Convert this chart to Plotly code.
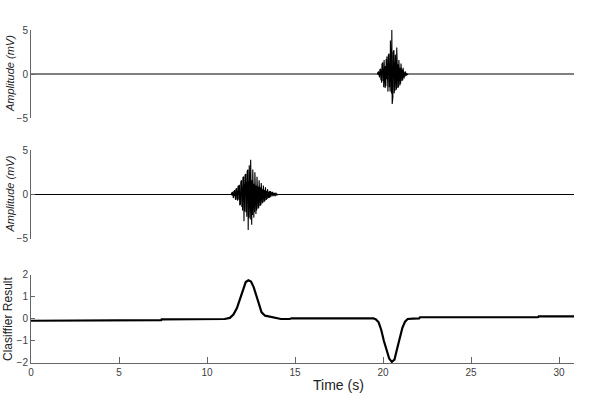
import numpy as np
import plotly.graph_objects as go

# ---------------- data ----------------
# Burst of channel 1 (top), sampled every 0.02 s starting at 19.70 s
top_burst_start = 19.70
top_burst_dt = 0.02
top_burst = [
    0.2, -0.1, 0.3, -0.3, 0.1, -0.4, 0.5, -0.2, 0.6, -0.7,
    0.4, -1.0, 1.1, -0.5, 1.3, -0.8, 0.6, -1.5, 1.6, -0.7,
    1.2, -1.6, 0.9, -1.4, 1.7, -0.6, 2.0, -1.6, 1.0, -2.0,
    2.1, -0.9, 2.3, -1.5, 1.2, -2.0, 3.8, -1.1, 2.6, -2.2,
    5.0, -3.4, 1.4, -2.6, 2.5, -1.0, 2.7, -2.2, 1.3, -1.9,
    2.2, -1.2, 2.1, -1.8, 3.0, -0.9, 2.0, -1.6, 1.1, -1.5,
    1.6, -0.8, 1.5, -1.3, 0.7, -1.1, 1.2, -0.6, 1.0, -0.8,
    0.5, -0.7, 0.7, -0.3, 0.5, -0.5, 0.2, -0.3, 0.3, -0.1,
    0.2, -0.2, 0.1, -0.1, 0.1, -0.1,
]

# Burst of channel 2 (middle), sampled every 0.02 s starting at 11.40 s
mid_burst_start = 11.40
mid_burst_dt = 0.02
mid_burst = [
    0.2, -0.1, 0.3, -0.3, 0.1, -0.4, 0.4, -0.2, 0.5, -0.4,
    0.3, -0.6, 0.6, -0.3, 0.7, -0.6, 0.4, -0.7, 0.9, -0.5,
    1.0, -0.6, 1.1, -1.2, 0.7, -1.1, 1.4, -0.8, 1.6, -1.4,
    0.9, -1.8, 1.9, -1.0, 2.0, -3.0, 1.2, -1.9, 2.2, -1.1,
    2.3, -2.0, 1.4, -2.5, 2.6, -1.3, 2.8, -4.0, 1.5, -2.6,
    3.3, -1.4, 2.7, -2.8, 3.9, -1.5, 2.9, -3.4, 1.6, -2.3,
    2.8, -1.2, 2.4, -2.6, 1.2, -2.0, 2.5, -1.0, 2.1, -2.2,
    1.0, -1.8, 2.0, -0.9, 1.8, -1.6, 0.9, -1.5, 1.6, -0.8,
    1.5, -1.3, 0.8, -1.2, 1.3, -0.7, 1.2, -1.0, 0.6, -0.9,
    1.0, -0.5, 0.9, -0.8, 0.5, -0.7, 0.8, -0.4, 0.7, -0.6,
    0.4, -0.5, 0.6, -0.3, 0.5, -0.4, 0.3, -0.4, 0.4, -0.2,
    0.4, -0.3, 0.2, -0.3, 0.3, -0.1, 0.3, -0.2, 0.2, -0.2,
    0.2, -0.1, 0.2, -0.2, 0.1, -0.1, 0.2, -0.1, 0.1, -0.1,
    0.0,
]

# Baseline level of both channels (flat, read as 0 mV)
base_t = [0.0, 30.85]
top_base = 0.0
mid_base = 0.0

# Classifier output
clf_t = [0.0, 3.7, 3.72, 7.4, 7.42, 10.5, 11.0, 11.3, 11.5, 11.7, 11.9, 12.05,
         12.2, 12.35, 12.5, 12.65, 12.8, 12.95, 13.1, 13.3, 13.6, 13.9, 14.2,
         14.7, 14.8, 19.45, 19.6, 19.75, 19.9, 20.05, 20.2, 20.35, 20.5, 20.65,
         20.8, 20.95, 21.1, 21.25, 21.4, 21.7, 22.05, 22.1, 28.8, 28.85, 30.85]
clf_v = [-0.08, -0.08, -0.05, -0.05, -0.02, -0.01, 0.0, 0.05, 0.2, 0.5, 1.0, 1.4,
         1.68, 1.76, 1.7, 1.45, 1.05, 0.6, 0.3, 0.15, 0.1, 0.05, 0.0,
         0.0, 0.03, 0.03, -0.02, -0.15, -0.5, -1.0, -1.45, -1.8, -1.95, -1.85,
         -1.35, -0.8, -0.4, -0.12, 0.0, 0.02, 0.03, 0.08, 0.08, 0.12, 0.12]

x_ticks = [0, 5, 10, 15, 20, 25, 30]
amp_ticks = [-5, 0, 5]
clf_ticks = [-2, -1, 0, 1, 2]
x_max = 30.85


def merge(base, b_start, b_dt, burst):
    bt = b_start + b_dt * np.arange(len(burst))
    t = np.concatenate([[base_t[0], bt[0] - b_dt], bt, [bt[-1] + b_dt, base_t[-1]]])
    v = np.concatenate([[base, base], burst, [base, base]])
    return t, v


top_t, top_v = merge(top_base, top_burst_start, top_burst_dt, top_burst)
mid_t, mid_v = merge(mid_base, mid_burst_start, mid_burst_dt, mid_burst)

# ---------------- figure ----------------
fig = go.Figure()
fig.add_trace(go.Scatter(x=top_t, y=top_v, mode="lines",
                         line=dict(color="black", width=1.1), xaxis="x", yaxis="y"))
fig.add_trace(go.Scatter(x=mid_t, y=mid_v, mode="lines",
                         line=dict(color="black", width=1.1), xaxis="x2", yaxis="y2"))
fig.add_trace(go.Scatter(x=clf_t, y=clf_v, mode="lines",
                         line=dict(color="black", width=2.2), xaxis="x3", yaxis="y3"))

axis_col = "#666666"
tick_font = dict(family="Liberation Sans, Arial, sans-serif", size=10, color="#404040")

hidden_x = dict(range=[0, x_max], showline=False, showticklabels=False,
                ticks="", showgrid=False, zeroline=False, automargin=False)
yax = dict(showline=True, linecolor=axis_col, linewidth=1, ticks="inside",
           ticklen=4, tickcolor=axis_col, showgrid=False, zeroline=False,
           tickfont=tick_font, mirror=False, automargin=False)

fig.update_layout(
    width=600, height=412,
    margin=dict(l=31, r=26, t=30, b=49),
    paper_bgcolor="white", plot_bgcolor="white",
    showlegend=False,
    xaxis=dict(domain=[0, 1], anchor="y", **hidden_x),
    xaxis2=dict(domain=[0, 1], anchor="y2", **hidden_x),
    xaxis3=dict(domain=[0, 1], anchor="y3", range=[0, x_max],
                tickvals=x_ticks, showline=True, linecolor=axis_col, linewidth=1,
                ticks="inside", ticklen=6, tickcolor=axis_col, showgrid=False,
                zeroline=False, tickfont=tick_font, automargin=False),
    yaxis=dict(domain=[0.7357, 1.0], anchor="x", range=[-5, 5],
               tickvals=amp_ticks, **yax),
    yaxis2=dict(domain=[0.3724, 0.6396], anchor="x2", range=[-5, 5],
                tickvals=amp_ticks, **yax),
    yaxis3=dict(domain=[0, 0.2643], anchor="x3", range=[-2, 2],
                tickvals=clf_ticks, **yax),
)

title_font = dict(family="Liberation Sans, Arial, sans-serif", size=11, color="#222222")
fig.add_annotation(text="<i>Amplitude (mV)</i>", xref="paper", yref="paper",
                   x=(10 - 31) / 543, y=(0.7357 + 1.0) / 2, textangle=-90,
                   showarrow=False, font=title_font, xanchor="center", yanchor="middle")
fig.add_annotation(text="<i>Amplitude (mV)</i>", xref="paper", yref="paper",
                   x=(10 - 31) / 543, y=(0.3724 + 0.6396) / 2, textangle=-90,
                   showarrow=False, font=title_font, xanchor="center", yanchor="middle")
fig.add_annotation(text="Clasiffier Result", xref="paper", yref="paper",
                   x=(8 - 31) / 543, y=0.2643 / 2, textangle=-90,
                   showarrow=False, font=dict(family="Liberation Sans, Arial, sans-serif",
                                              size=12, color="#222222"),
                   xanchor="center", yanchor="middle")
fig.add_annotation(text="Time (s)", xref="paper", yref="paper",
                   x=(338 - 31) / 543, y=-(385 - 363) / 333,
                   showarrow=False, font=dict(family="Liberation Sans, Arial, sans-serif",
                                              size=14, color="#222222"),
                   xanchor="center", yanchor="middle")

fig.write_html("out.html", config={"displayModeBar": False},
               post_script="document.body.style.margin='0';")
